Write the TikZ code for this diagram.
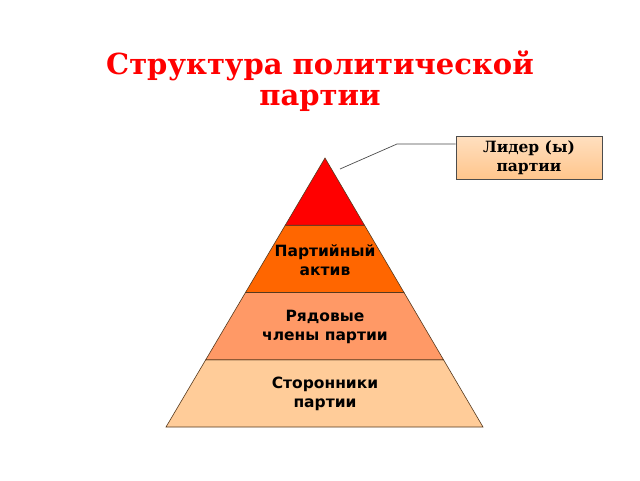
\documentclass[tikz,border=0pt]{standalone}
\usepackage{fontspec}
\usetikzlibrary{calc}
\setmainfont{DejaVu Serif}
\newfontfamily\sansfont{DejaVu Sans}
\begin{document}
\begin{tikzpicture}[x=1pt,y=-1pt,
  lvl/.style={draw=black!55!brown, line width=0.6pt},
  lvltext/.style={font=\sansfont\bfseries\fontsize{15.5}{18.5}\selectfont, align=center, text=black},
  titletext/.style={font=\bfseries\fontsize{29}{31}\selectfont, align=center, text=red},
  leaderbox/.style={draw=black!70, line width=0.8pt, top color=orange!25, bottom color=orange!45!white, minimum width=146pt, minimum height=43pt, align=center, font=\bfseries\fontsize{15.5}{19}\selectfont, inner sep=0pt}
]
\useasboundingbox (0,0) rectangle (640,480);
\fill[white] (0,0) rectangle (640,480);
% pyramid levels
\coordinate (apex) at (325,158);
\coordinate (bl) at (166,427);
\coordinate (br) at (483,427);
\path[lvl, fill={rgb,255:red,255;green,204;blue,153}] ($(apex)!0.75!(bl)$) -- ($(apex)!0.75!(br)$) -- (br) -- (bl) -- cycle;
\path[lvl, fill={rgb,255:red,255;green,153;blue,102}] ($(apex)!0.5!(bl)$) -- ($(apex)!0.5!(br)$) -- ($(apex)!0.75!(br)$) -- ($(apex)!0.75!(bl)$) -- cycle;
\path[lvl, fill={rgb,255:red,255;green,102;blue,0}] ($(apex)!0.25!(bl)$) -- ($(apex)!0.25!(br)$) -- ($(apex)!0.5!(br)$) -- ($(apex)!0.5!(bl)$) -- cycle;
\path[lvl, fill={rgb,255:red,255;green,0;blue,0}] (apex) -- ($(apex)!0.25!(br)$) -- ($(apex)!0.25!(bl)$) -- cycle;
% texts
\node[titletext] (title) at (320,81) {Структура политической\\партии};
\node[lvltext] (aktiv) at (325,260) {Партийный\\актив};
\node[lvltext] (ryad) at (325,327) {Рядовые\\члены партии};
\node[lvltext] (stor) at (325,394) {Сторонники\\партии};
\node[leaderbox] (leader) at (529,157.5) {Лидер (ы)\\партии};
% connector
\coordinate (tip) at (340,169);
\coordinate (bend) at (397,144);
\draw[black!70, line width=0.7pt] (tip) -- (bend) -- (bend -| leader.west);
\end{tikzpicture}
\end{document}
